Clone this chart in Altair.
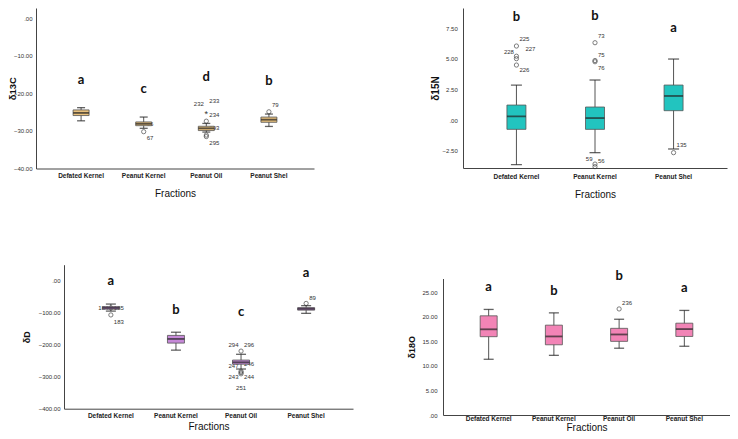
import altair as alt
import pandas as pd

FONT = "Liberation Sans"
LETTER_FONT = "Lato"

FR4 = ["Defated Kernel", "Peanut Kernel", "Peanut Oil", "Peanut Shel"]
FR3 = ["Defated Kernel", "Peanut Kernel", "Peanut Shel"]

# ---------------- δ13C ----------------
C_LOW = [-27.3, -29.3, -30.3, -28.8]
C_Q1 = [-25.9, -28.6, -29.9, -27.7]
C_MED = [-25.2, -28.1, -29.3, -27.0]
C_Q3 = [-24.4, -27.6, -28.75, -26.3]
C_HIGH = [-23.8, -26.3, -28.0, -25.5]
C_OUT_FR = ["Peanut Kernel", "Peanut Oil", "Peanut Oil", "Peanut Oil", "Peanut Shel"]
C_OUT_VAL = [-30.2, -27.4, -31.1, -31.5, -24.9]
C_EXT_FR = ["Peanut Oil"]
C_EXT_VAL = [-24.9]
C_LAB_FR = ["Peanut Kernel", "Peanut Kernel", "Peanut Oil", "Peanut Oil", "Peanut Oil", "Peanut Oil", "Peanut Oil", "Peanut Shel"]
C_LAB_TXT = ["67", "66", "232", "233", "234", "293", "295", "79"]
C_LAB_VAL = [-32.0, -28.1, -22.8, -22.0, -25.7, -29.2, -33.3, -23.0]
C_LAB_SIDE = ["r", "r", "l", "r", "r", "r", "r", "r"]
C_LET = ["a", "c", "d", "b"]
C_LET_Y = [-16.5, -18.8, -15.6, -16.7]

# ---------------- δ15N ----------------
N_LOW = [-3.64, -2.66, -2.36]
N_Q1 = [-0.76, -0.76, 0.76]
N_MED = [0.30, 0.16, 1.96]
N_Q3 = [1.22, 1.06, 2.85]
N_HIGH = [2.85, 3.26, 4.97]
N_OUT_FR = ["Defated Kernel", "Defated Kernel", "Defated Kernel", "Defated Kernel",
            "Peanut Kernel", "Peanut Kernel", "Peanut Kernel", "Peanut Kernel", "Peanut Kernel", "Peanut Shel"]
N_OUT_VAL = [6.03, 5.2, 5.0, 4.48, 6.3, 4.85, 4.75, -3.59, -3.8, -2.66]
N_LAB_FR = ["Defated Kernel", "Defated Kernel", "Defated Kernel", "Defated Kernel",
            "Peanut Kernel", "Peanut Kernel", "Peanut Kernel", "Peanut Kernel", "Peanut Kernel", "Peanut Shel"]
N_LAB_TXT = ["225", "228", "227", "226", "73", "75", "76", "59", "56", "135"]
N_LAB_VAL = [6.6, 5.54, 5.79, 4.07, 6.85, 5.32, 4.21, -3.15, -3.32, -2.06]
N_LAB_SIDE = ["r", "l", "rr", "r", "r", "r", "r", "l", "r", "r"]
N_LET = ["b", "b", "a"]
N_LET_Y = [8.4, 8.45, 7.52]

# ---------------- δD ----------------
D_LOW = [-95, -217, -276, -102]
D_Q1 = [-89, -195, -261, -92]
D_MED = [-85, -182, -255, -88]
D_Q3 = [-81, -171, -248, -84]
D_HIGH = [-73, -161, -230, -78]
D_OUT_FR = ["Defated Kernel", "Defated Kernel", "Peanut Oil", "Peanut Oil", "Peanut Oil", "Peanut Oil", "Peanut Shel"]
D_OUT_VAL = [-85, -107, -220, -283, -287, -291, -71]
D_LAB_FR = ["Defated Kernel", "Defated Kernel", "Defated Kernel", "Peanut Oil", "Peanut Oil", "Peanut Oil",
            "Peanut Oil", "Peanut Oil", "Peanut Oil", "Peanut Oil", "Peanut Shel"]
D_LAB_TXT = ["184", "185", "183", "294", "296", "247", "246", "243", "244", "251", "89"]
D_LAB_VAL = [-85, -85, -128, -202, -202, -266, -260, -300, -300, -336, -54]
D_LAB_SIDE = ["l", "r", "r", "l", "r", "l", "r", "l", "r", "c", "r"]
D_LET = ["a", "b", "c", "a"]
D_LET_Y = [-1, -92, -97, 25]

# ---------------- δ18O ----------------
O_LOW = [11.35, 12.15, 13.6, 14.0]
O_Q1 = [15.95, 14.3, 15.0, 16.0]
O_MED = [17.45, 16.0, 16.4, 17.5]
O_Q3 = [20.2, 18.3, 17.65, 18.7]
O_HIGH = [21.5, 20.8, 19.5, 21.3]
O_OUT_FR = ["Peanut Oil"]
O_OUT_VAL = [21.6]
O_LAB_FR = ["Peanut Oil"]
O_LAB_TXT = ["236"]
O_LAB_VAL = [22.9]
O_LAB_SIDE = ["r"]
O_LET = ["a", "b", "b", "a"]
O_LET_Y = [26.0, 25.3, 28.4, 25.9]

SIDE_STYLE = {
    "l": dict(align="right", dx=-2.5),
    "r": dict(align="left", dx=3),
    "rr": dict(align="left", dx=9),
    "c": dict(align="center", dx=0),
}

# whole drawing area (the four panels are placed inside it through their scale ranges)
W, H = 722, 423


def box_panel(cats, low, q1, med, q3, high, out_fr, out_val, ext_fr, ext_val,
              lab_fr, lab_txt, lab_val, lab_side, letters, letter_y, *,
              ytitle, ydomain, yticks, xrange, yrange, fill, pad_outer, box_w, cap_w,
              x_label_pad, x_title_pad, y_label_pad, y_title_pad, y_title_size):
    stats = pd.DataFrame({"fraction": cats, "low": low, "q1": q1, "med": med, "q3": q3, "high": high})
    outs = pd.DataFrame({"fraction": out_fr, "v": out_val})
    exts = pd.DataFrame({"fraction": ext_fr, "v": ext_val})
    labs = pd.DataFrame({"fraction": lab_fr, "v": lab_val, "t": lab_txt, "side": lab_side})
    lets = pd.DataFrame({"fraction": cats, "v": letter_y, "t": letters})

    xscale = alt.Scale(domain=cats, range=xrange, paddingInner=0, paddingOuter=pad_outer)
    xaxis = alt.Axis(title="Fractions", orient="bottom", offset=yrange[0] - H,
                     labelAngle=0, labelFont=FONT, labelFontWeight="bold",
                     labelFontSize=6.5, labelColor="#222", ticks=False, tickSize=0, domainColor="#444",
                     domainWidth=1, labelPadding=x_label_pad, titleFont=FONT, titleFontSize=10,
                     titleFontWeight="normal", titleColor="#111", titlePadding=x_title_pad, grid=False)
    yscale = alt.Scale(domain=ydomain, range=yrange, nice=False, zero=False)
    yaxis = alt.Axis(title=ytitle, orient="left", offset=-xrange[0], values=yticks,
                     labelExpr="datum.value == 0 ? '.00' : format(datum.value, '.2f')",
                     labelFont=FONT, labelFontSize=6, labelColor="#333", ticks=False, tickSize=0,
                     domainColor="#444", domainWidth=1, labelPadding=y_label_pad, labelFlush=False,
                     labelOverlap=False, titleFont=FONT, titleFontSize=y_title_size,
                     titleFontWeight="bold", titleColor="#111", titlePadding=y_title_pad, grid=False)

    def X():
        return alt.X("fraction:N", scale=xscale, axis=xaxis, sort=cats)

    def Y(f):
        return alt.Y(f"{f}:Q", scale=yscale, axis=yaxis)

    layers = []
    for side, st in SIDE_STYLE.items():
        sub = labs[labs["side"] == side]
        if len(sub):
            layers.append(alt.Chart(sub).mark_text(font=FONT, fontSize=6, color="#333",
                                                   baseline="middle", **st)
                          .encode(x=X(), y=Y("v"), text="t:N"))
    if len(outs):
        layers.append(alt.Chart(outs).mark_point(shape="circle", filled=False, size=18,
                                                 color="#333", strokeWidth=0.9)
                      .encode(x=X(), y=Y("v")))
    if len(exts):
        layers.append(alt.Chart(exts).mark_text(text="*", font=FONT, fontSize=9, color="#333",
                                                baseline="middle", dy=2)
                      .encode(x=X(), y=Y("v")))
    base = alt.Chart(stats)
    layers.append(base.mark_rule(color="#555", strokeWidth=1).encode(x=X(), y=Y("low"), y2="high:Q"))
    layers.append(base.mark_bar(size=box_w, color=fill, stroke="#555", strokeWidth=0.8)
                  .encode(x=X(), y=Y("q1"), y2="q3:Q"))
    layers.append(base.mark_tick(size=box_w, thickness=1.8, color="#222").encode(x=X(), y=Y("med")))
    layers.append(base.mark_tick(size=cap_w, thickness=1.3, color="#222").encode(x=X(), y=Y("low")))
    layers.append(base.mark_tick(size=cap_w, thickness=1.3, color="#222").encode(x=X(), y=Y("high")))
    layers.append(alt.Chart(lets).mark_text(font=LETTER_FONT, fontWeight="bold", fontSize=13,
                                            color="#111", baseline="middle")
                  .encode(x=X(), y=Y("v"), text="t:N"))
    return alt.layer(*layers)


p1 = box_panel(FR4, C_LOW, C_Q1, C_MED, C_Q3, C_HIGH, C_OUT_FR, C_OUT_VAL, C_EXT_FR, C_EXT_VAL,
               C_LAB_FR, C_LAB_TXT, C_LAB_VAL, C_LAB_SIDE, C_LET, C_LET_Y,
               ytitle="δ13C", ydomain=[-40, 2.74], yticks=[0, -10, -20, -30, -40],
               xrange=[28, 306], yrange=[160.5, 0], fill="#E8C07C", pad_outer=0.22, box_w=16, cap_w=8,
               x_label_pad=3.6, x_title_pad=9.8, y_label_pad=4, y_title_pad=-4.2, y_title_size=9.5)

p2 = box_panel(FR3, N_LOW, N_Q1, N_MED, N_Q3, N_HIGH, N_OUT_FR, N_OUT_VAL, [], [],
               N_LAB_FR, N_LAB_TXT, N_LAB_VAL, N_LAB_SIDE, N_LET, N_LET_Y,
               ytitle="δ15N", ydomain=[-3.91, 9.13], yticks=[7.5, 5, 2.5, 0, -2.5],
               xrange=[455, 719], yrange=[160, 0], fill="#22C4BF", pad_outer=0.18, box_w=19, cap_w=11,
               x_label_pad=5.1, x_title_pad=9.8, y_label_pad=5.7, y_title_pad=1.3, y_title_size=10)

p3 = box_panel(FR4, D_LOW, D_Q1, D_MED, D_Q3, D_HIGH, D_OUT_FR, D_OUT_VAL, [], [],
               D_LAB_FR, D_LAB_TXT, D_LAB_VAL, D_LAB_SIDE, D_LET, D_LET_Y,
               ytitle="δD", ydomain=[-400, 50], yticks=[0, -100, -200, -300, -400],
               xrange=[56, 345], yrange=[400.7, 256.7], fill="#C689D8", pad_outer=0.22, box_w=17, cap_w=10,
               x_label_pad=3.7, x_title_pad=2.5, y_label_pad=4, y_title_pad=6.7, y_title_size=9)

p4 = box_panel(FR4, O_LOW, O_Q1, O_MED, O_Q3, O_HIGH, O_OUT_FR, O_OUT_VAL, [], [],
               O_LAB_FR, O_LAB_TXT, O_LAB_VAL, O_LAB_SIDE, O_LET, O_LET_Y,
               ytitle="δ18O", ydomain=[0, 27.8], yticks=[25, 20, 15, 10, 5, 0],
               xrange=[435, 722], yrange=[407, 270.5], fill="#F284B6", pad_outer=0.2, box_w=17, cap_w=10,
               x_label_pad=0.5, x_title_pad=0, y_label_pad=6, y_title_pad=5.3, y_title_size=9)

chart = alt.layer(p1, p2, p3, p4).resolve_scale(
    x="independent", y="independent"
).properties(
    width=W,
    height=H,
    autosize=alt.AutoSizeParams(type="none"),
    padding=0,
    background="white",
).configure_view(strokeWidth=0)

chart.save("out.html", embed_options={"renderer": "svg", "actions": False})
